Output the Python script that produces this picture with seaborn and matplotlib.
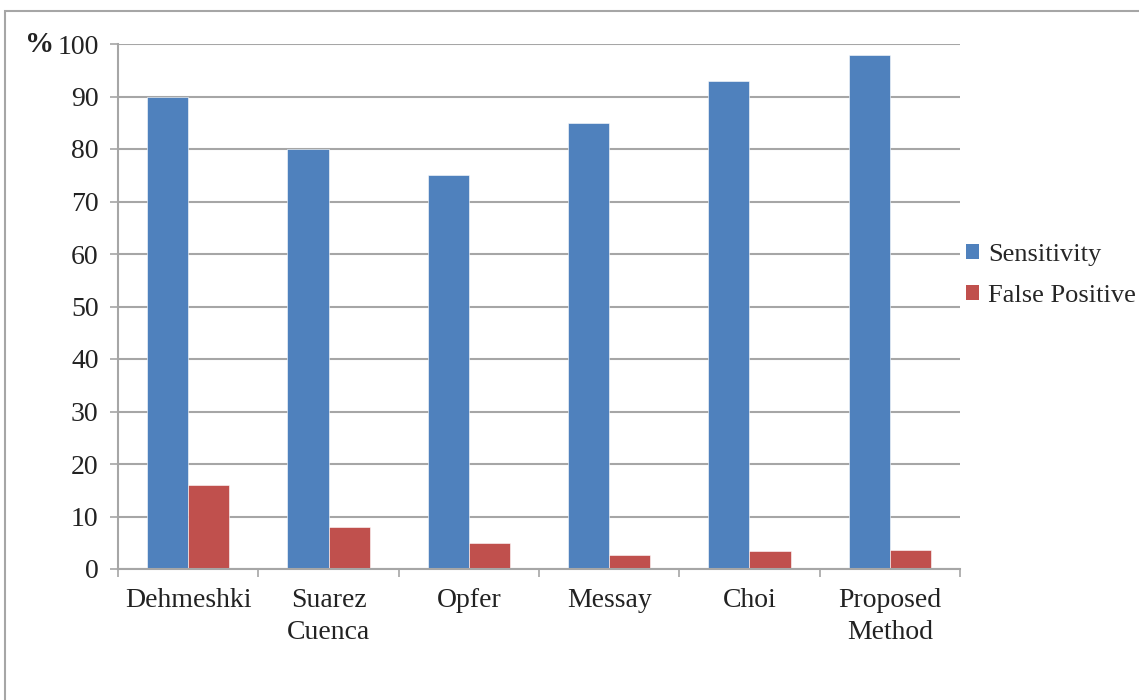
import matplotlib
matplotlib.use("Agg")
import matplotlib.pyplot as plt
import matplotlib.patches as mpatches
import seaborn as sns
import pandas as pd

categories = ["Dehmeshki", "Suarez\nCuenca", "Opfer", "Messay", "Choi", "Proposed\nMethod"]
sensitivity = [90, 80, 75, 85, 93, 98]
false_positive = [16, 8, 5, 2.7, 3.5, 3.6]
series_names = ["Sensitivity", "False Positive"]
yticks = [0, 10, 20, 30, 40, 50, 60, 70, 80, 90, 100]

df = pd.DataFrame({
    "method": categories * 2,
    "value": sensitivity + false_positive,
    "series": [series_names[0]] * len(categories) + [series_names[1]] * len(categories),
})

sns.set_style("white")
plt.rcParams["font.family"] = ["Liberation Serif", "DejaVu Serif"]

fig = plt.figure(figsize=(11.39, 7.0), dpi=100)
ax = fig.add_axes([118/1139, 1-569/700, (960-118)/1139, (569-44)/700])

palette = {series_names[0]: "#4F81BD", series_names[1]: "#C0504D"}
sns.barplot(data=df, x="method", y="value", hue="series", palette=palette,
            width=0.585, gap=0, saturation=1, ax=ax, edgecolor="#FFFFFF",
            linewidth=0.4, order=categories, hue_order=series_names)

fs = 20
ax.set_ylim(0, 100)
ax.set_xlim(-0.5, len(categories) - 0.5)
ax.set_yticks(yticks)
ax.set_yticklabels([str(v) for v in yticks], fontsize=fs, color="#222222")
ax.set_xticks(range(len(categories)))
ax.set_xticklabels(categories, fontsize=fs, color="#222222", linespacing=1.35)
ax.set_xticks([i - 0.5 for i in range(len(categories) + 1)], minor=True)
ax.tick_params(axis="x", which="major", length=0, pad=14)
ax.tick_params(axis="x", which="minor", length=6, width=1.2, color="#A6A6A6", direction="out", bottom=True)
ax.tick_params(axis="y", length=6, width=1.2, color="#A6A6A6", direction="out", left=True, pad=8)
ax.set_xlabel("")
ax.set_ylabel("")
ax.grid(axis="y", color="#A6A6A6", linewidth=1.5)
ax.set_axisbelow(True)
for s in ["top", "right"]:
    ax.spines[s].set_visible(False)
for s in ["left", "bottom"]:
    ax.spines[s].set_color("#A6A6A6")
    ax.spines[s].set_linewidth(1.5)

fig.text(40/1139, 1-45/700, "%", fontsize=21, fontweight="bold", ha="center", va="center", color="#222222")

handles = [mpatches.Patch(facecolor=palette[n], edgecolor="none") for n in series_names]
ax.get_legend().remove()
fig.legend(handles, series_names, loc="upper left", bbox_to_anchor=(966/1139, 1-244/700),
           frameon=False, fontsize=19, handlelength=0.5, handleheight=0.5,
           handletextpad=0.35, labelspacing=0.72, borderaxespad=0, borderpad=0)

frame = mpatches.Rectangle((5/1139, -0.01), 1.05, 1-11/700 + 0.01, transform=fig.transFigure,
                           fill=False, edgecolor="#A6A6A6", linewidth=1.5, clip_on=False)
fig.patches.append(frame)

fig.savefig("out.png", dpi=100)
